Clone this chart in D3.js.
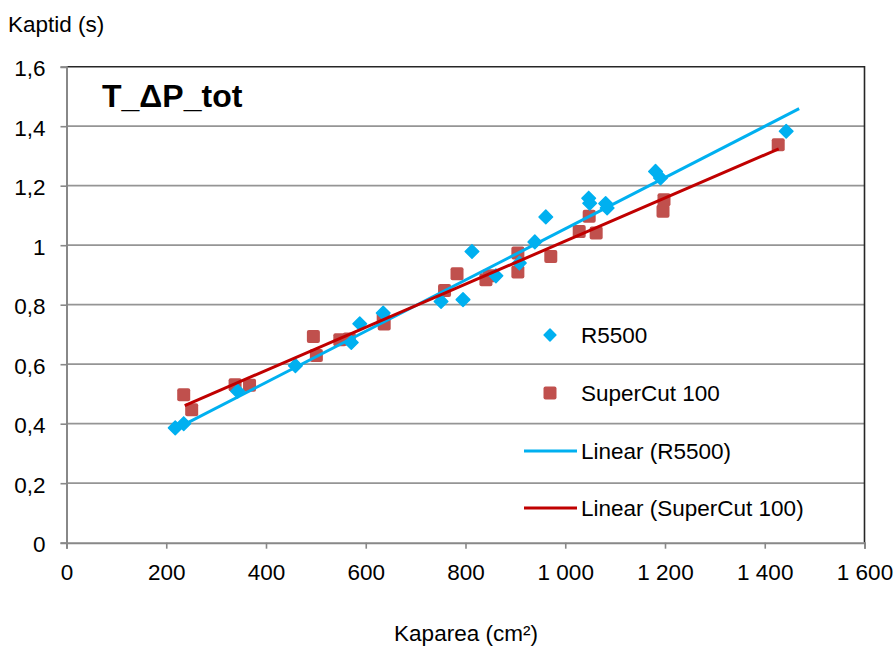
<!DOCTYPE html>
<html>
<head>
<meta charset="utf-8">
<script src="https://cdn.jsdelivr.net/npm/d3@7"></script>
<style>
html, body { margin: 0; padding: 0; background: #fff; }
svg { display: block; }
text { font-family: "Liberation Sans", Arial, sans-serif; fill: #000; }
</style>
</head>
<body>
<svg id="chart" width="896" height="646"></svg>
<script>
// ---- Data ----
const r5500X = [218, 235, 343, 459, 571, 588, 635, 751, 795, 813, 861, 908, 939, 961, 1047, 1049, 1081, 1084, 1181, 1191, 1443];
const r5500Y = [0.386, 0.400, 0.509, 0.595, 0.673, 0.736, 0.772, 0.811, 0.817, 0.979, 0.897, 0.940, 1.011, 1.095, 1.158, 1.141, 1.140, 1.125, 1.248, 1.226, 1.383];
const superX = [235, 251, 338, 367, 495, 501, 548, 567, 635, 637, 758, 783, 841, 848, 905, 905, 971, 1028, 1048, 1062, 1196, 1198, 1427];
const superY = [0.497, 0.447, 0.531, 0.529, 0.693, 0.629, 0.682, 0.685, 0.752, 0.735, 0.848, 0.904, 0.884, 0.897, 0.974, 0.910, 0.962, 1.046, 1.097, 1.041, 1.114, 1.153, 1.338];
const trendR5500X = [218, 1469];
const trendR5500Y = [0.382, 1.459];
const trendSuperX = [237, 1428];
const trendSuperY = [0.461, 1.324];
const xTicks = [0, 200, 400, 600, 800, 1000, 1200, 1400, 1600];
const yTicks = [0, 0.2, 0.4, 0.6, 0.8, 1, 1.2, 1.4, 1.6];
const seriesNames = ["R5500", "SuperCut 100", "Linear (R5500)", "Linear (SuperCut 100)"];
const titleText = "T_\u0394P_tot";
const xTitle = "Kaparea (cm\u00B2)";
const yTitle = "Kaptid (s)";

// ---- Layout ----
const L = 66.5, R = 864.5, T = 66.7, B = 542.7;
const FS = 22.5;
const blue = "#00b0f0", redM = "#c0504d", redL = "#c00000";

const svg = d3.select("#chart");
const x = d3.scaleLinear().domain([0, 1600]).range([L, R]);
const y = d3.scaleLinear().domain([0, 1.6]).range([B, T]);

const fmtX = v => v >= 1000 ? Math.floor(v / 1000) + " " + String(v % 1000).padStart(3, "0") : String(v);
const fmtY = v => String(+v.toFixed(1)).replace(".", ",");

// gridlines
svg.append("g").selectAll("line").data(yTicks.filter(v => v > 0 && v < 1.6)).join("line")
  .attr("x1", L).attr("x2", R).attr("y1", d => y(d)).attr("y2", d => y(d))
  .attr("stroke", "#959595").attr("stroke-width", 1.7);

// top and right border
svg.append("path")
  .attr("d", `M${L},${T}H${R}V${B}`)
  .attr("fill", "none").attr("stroke", "#262626").attr("stroke-width", 1.6);

// axes
const xAxis = d3.axisBottom(x).tickValues(xTicks).tickFormat(fmtX).tickSize(6).tickPadding(15);
const gx = svg.append("g").attr("transform", `translate(0,${B})`).call(xAxis);
const yAxis = d3.axisLeft(y).tickValues(yTicks).tickFormat(fmtY).tickSize(6).tickPadding(15);
const gy = svg.append("g").attr("transform", `translate(${L},0)`).call(yAxis);
[gx, gy].forEach(g => {
  g.select(".domain").attr("stroke", "#888").attr("stroke-width", 2);
  g.selectAll(".tick line").attr("stroke", "#888").attr("stroke-width", 1.6);
  g.selectAll(".tick text").attr("font-size", FS).attr("font-family", "Liberation Sans, Arial, sans-serif").attr("fill", "#000");
});
gy.selectAll(".tick text").attr("dy", "0.4em");

// markers
const rnd = s => `M${-s/2+2},${-s/2}H${s/2-2}Q${s/2},${-s/2} ${s/2},${-s/2+2}V${s/2-2}Q${s/2},${s/2} ${s/2-2},${s/2}H${-s/2+2}Q${-s/2},${s/2} ${-s/2},${s/2-2}V${-s/2+2}Q${-s/2},${-s/2} ${-s/2+2},${-s/2}Z`;

svg.append("g").selectAll("path").data(superX.map((v, i) => [v, superY[i]])).join("path")
  .attr("d", rnd(13)).attr("transform", d => `translate(${x(d[0])},${y(d[1])})`)
  .attr("fill", redM);

svg.append("g").selectAll("path").data(r5500X.map((v, i) => [v, r5500Y[i]])).join("path")
  .attr("d", d3.symbol().type(d3.symbolSquare).size(92)()).attr("transform", d => `translate(${x(d[0])},${y(d[1])}) rotate(45)`)
  .attr("fill", blue).attr("stroke", blue).attr("stroke-width", 1.5).attr("stroke-linejoin", "round");

// trend lines
const line = d3.line().x(d => x(d[0])).y(d => y(d[1]));
svg.append("path").datum(trendR5500X.map((v, i) => [v, trendR5500Y[i]]))
  .attr("d", line).attr("stroke", blue).attr("stroke-width", 3).attr("fill", "none");
svg.append("path").datum(trendSuperX.map((v, i) => [v, trendSuperY[i]]))
  .attr("d", line).attr("stroke", redL).attr("stroke-width", 3).attr("fill", "none");

// legend
const lg = svg.append("g");
const rowsY = [335, 393, 451, 508];
lg.append("path").attr("d", d3.symbol().type(d3.symbolSquare).size(70)()).attr("transform", `translate(550,${rowsY[0]}) rotate(45)`)
  .attr("fill", blue).attr("stroke", blue).attr("stroke-width", 1.5).attr("stroke-linejoin", "round");
lg.append("path").attr("d", rnd(13)).attr("transform", `translate(550,${rowsY[1]})`).attr("fill", redM);
lg.append("line").attr("x1", 524).attr("x2", 577).attr("y1", rowsY[2]).attr("y2", rowsY[2]).attr("stroke", blue).attr("stroke-width", 3);
lg.append("line").attr("x1", 524).attr("x2", 577).attr("y1", rowsY[3]).attr("y2", rowsY[3]).attr("stroke", redL).attr("stroke-width", 3);
lg.selectAll("text").data(seriesNames).join("text")
  .attr("x", 581).attr("y", (d, i) => rowsY[i]).attr("dy", "0.36em")
  .attr("font-size", FS).text(d => d);

// titles
svg.append("text").attr("x", 102).attr("y", 107).attr("font-size", 32).attr("font-weight", "bold")
  .attr("font-family", "Lato, 'Open Sans', sans-serif").text(titleText);
svg.append("text").attr("x", 8).attr("y", 31.5).attr("font-size", FS).text(yTitle);
svg.append("text").attr("x", 466).attr("y", 641).attr("text-anchor", "middle").attr("font-size", FS).text(xTitle);
</script>
</body>
</html>
